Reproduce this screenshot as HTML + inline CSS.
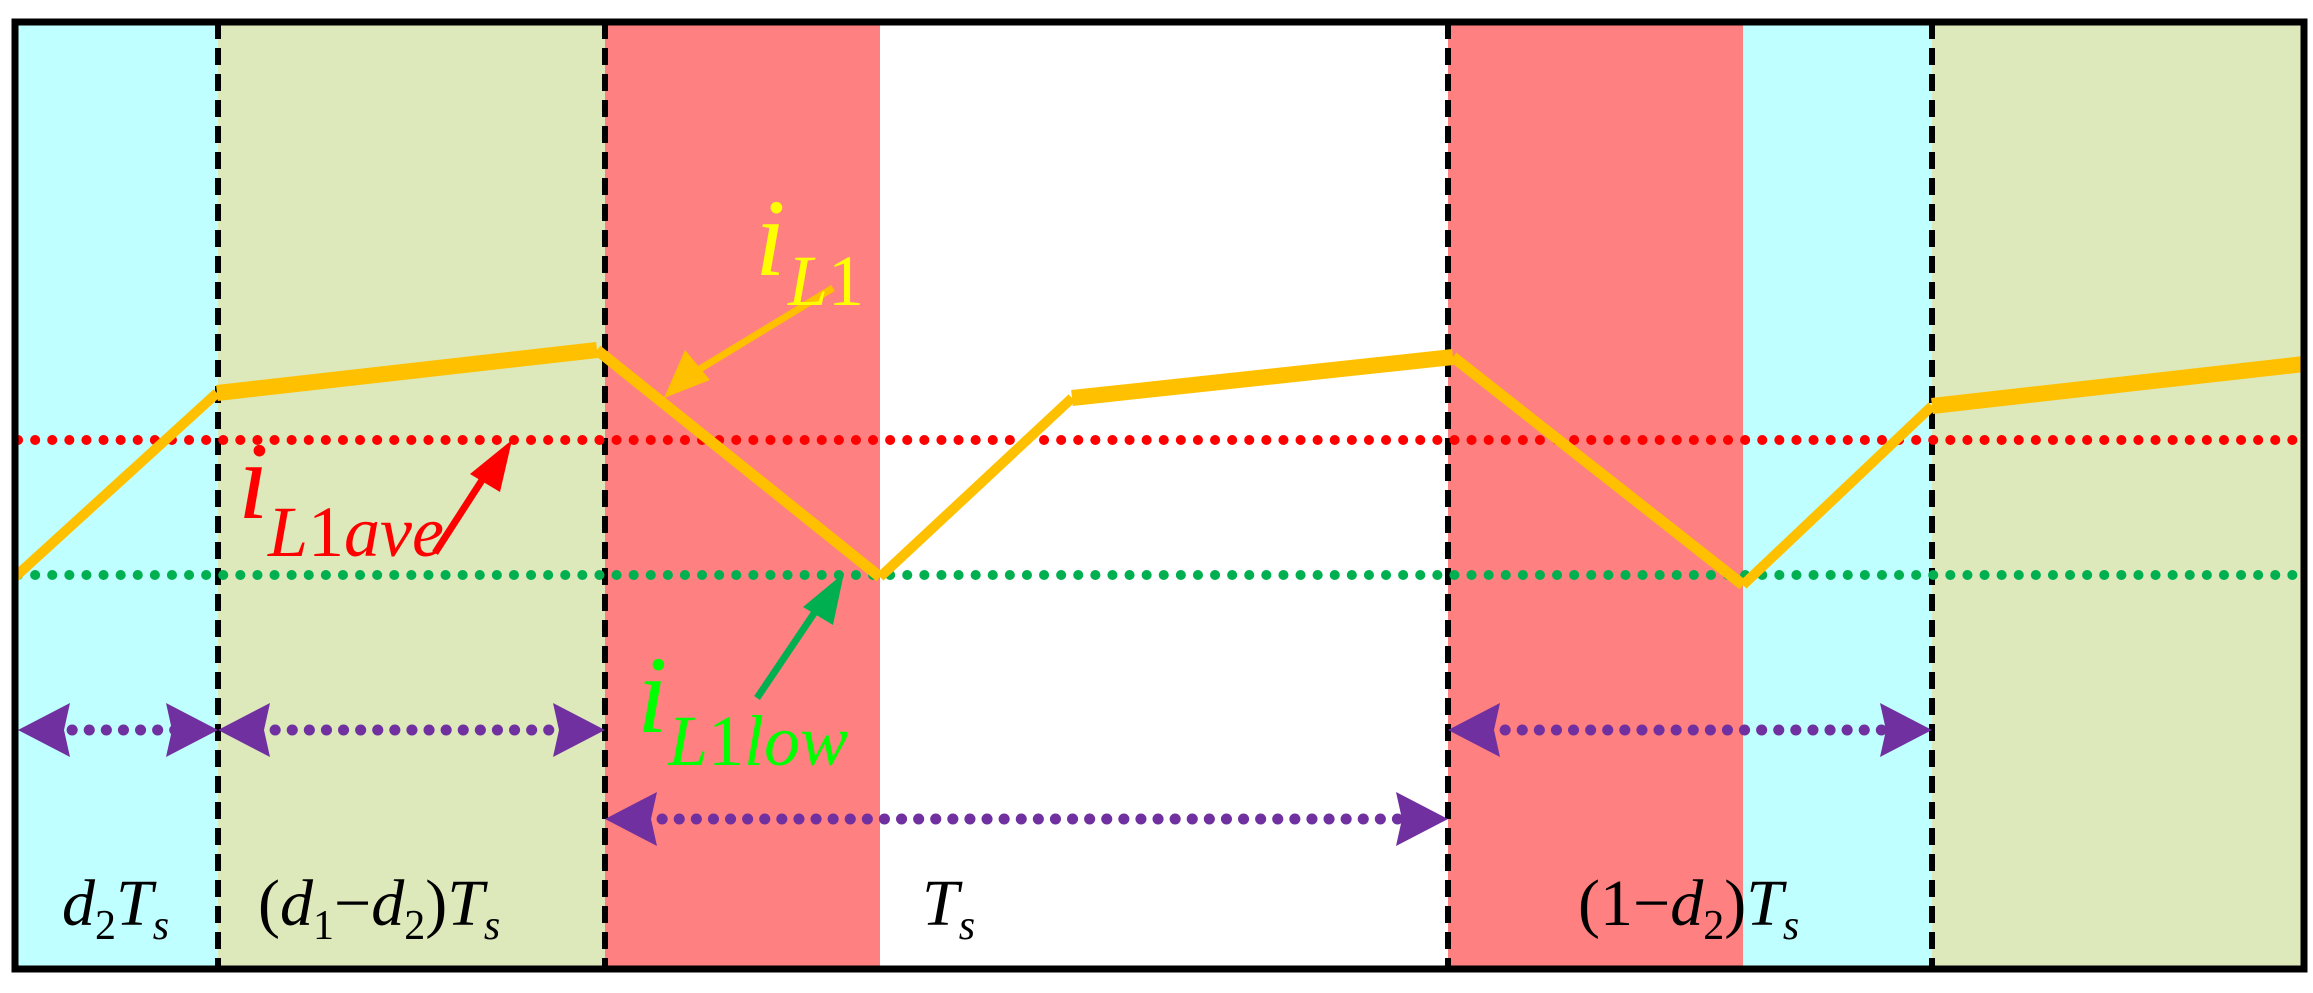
<!DOCTYPE html>
<html><head><meta charset="utf-8"><style>html,body{margin:0;padding:0;background:#fff}svg{display:block}text{font-family:"Liberation Serif","Times New Roman",serif}</style></head>
<body>
<svg width="2313" height="993" viewBox="0 0 2313 993" xmlns="http://www.w3.org/2000/svg">
<rect x="15" y="22" width="203" height="947" fill="#c0ffff"/>
<rect x="218" y="22" width="387" height="947" fill="#dde8bb"/>
<rect x="605" y="22" width="275" height="947" fill="#ff8080"/>
<rect x="1448" y="22" width="295" height="947" fill="#ff8080"/>
<rect x="1743" y="22" width="189" height="947" fill="#c0ffff"/>
<rect x="1932" y="22" width="372" height="947" fill="#dde8bb"/>
<g stroke="#000" stroke-width="6" stroke-dasharray="17,9">
<line x1="218" y1="22" x2="218" y2="969"/><line x1="605" y1="22" x2="605" y2="969"/>
<line x1="1448" y1="22" x2="1448" y2="969"/><line x1="1932" y1="22" x2="1932" y2="969"/>
</g>
<g stroke-width="10" stroke-linecap="round" stroke-dasharray="0.1,17">
<line x1="18" y1="440" x2="2304" y2="440" stroke="#ff0000"/>
<line x1="18" y1="575" x2="2304" y2="575" stroke="#00b050"/>
</g>
<g stroke="#ffc000" fill="none">
<polyline points="15,577 217,393" stroke-width="10"/>
<polyline points="217,393 597,350" stroke-width="16"/>
<polyline points="597,350 880,577" stroke-width="11"/>
<polyline points="880,577 1072,398" stroke-width="10"/>
<polyline points="1072,398 1453,357" stroke-width="16"/>
<polyline points="1453,357 1743,585" stroke-width="11"/>
<polyline points="1743,585 1932,406" stroke-width="10"/>
<polyline points="1932,406 2304,364" stroke-width="16"/>
</g>
<g stroke="#7030a0" stroke-width="11" stroke-linecap="round" stroke-dasharray="0.1,17">
<line x1="55" y1="730" x2="180" y2="730"/>
<line x1="258" y1="730" x2="565" y2="730"/>
<line x1="1488" y1="730" x2="1890" y2="730"/>
<line x1="645" y1="819" x2="1410" y2="819"/>
</g>
<g fill="#7030a0">
<path d="M18,730 L70,703 L64,730 L70,757 z"/>
<path d="M218,730 L166,703 L172,730 L166,757 z"/>
<path d="M218,730 L270,703 L264,730 L270,757 z"/>
<path d="M605,730 L553,703 L559,730 L553,757 z"/>
<path d="M1448,730 L1500,703 L1494,730 L1500,757 z"/>
<path d="M1932,730 L1880,703 L1886,730 L1880,757 z"/>
<path d="M605,819 L657,792 L651,819 L657,846 z"/>
<path d="M1448,819 L1396,792 L1402,819 L1396,846 z"/>
</g>
<line x1="833" y1="288" x2="690" y2="375" stroke="#ffc000" stroke-width="7"/>
<path d="M664,398 L685,350 L710,380 z" fill="#ffc000"/>
<line x1="435" y1="553" x2="495" y2="460" stroke="#ff0000" stroke-width="7"/>
<path d="M512,440 L500,492 L470,474 z" fill="#ff0000"/>
<line x1="757" y1="698" x2="825" y2="597" stroke="#00b050" stroke-width="7"/>
<path d="M844,573 L833,625 L803,607 z" fill="#00b050"/>
<rect x="15" y="22" width="2289" height="947" fill="none" stroke="#000" stroke-width="7"/>
<g font-style="italic">
<text x="755" y="275" font-size="110" fill="#ffff00">i</text>
<text x="788" y="305" font-size="72" fill="#ffff00">L<tspan font-style="normal">1</tspan></text>
<text x="238" y="518" font-size="110" fill="#ff0000">i</text>
<text x="268" y="556" font-size="72" fill="#ff0000">L<tspan font-style="normal">1</tspan>ave</text>
<text x="637" y="732" font-size="110" fill="#00ff00">i</text>
<text x="668" y="765" font-size="72" fill="#00ff00">L<tspan font-style="normal">1</tspan>low</text>
</g>
<g font-size="66" fill="#000">
<text x="62" y="925"><tspan font-style="italic">d</tspan><tspan font-size="42" dy="14">2</tspan><tspan font-style="italic" dy="-14">T</tspan><tspan font-style="italic" font-size="42" dy="14">s</tspan></text>
<text x="258" y="925">(<tspan font-style="italic">d</tspan><tspan font-size="42" dy="14">1</tspan><tspan dy="-14">−</tspan><tspan font-style="italic">d</tspan><tspan font-size="42" dy="14">2</tspan><tspan dy="-14">)</tspan><tspan font-style="italic">T</tspan><tspan font-style="italic" font-size="42" dy="14">s</tspan></text>
<text x="922" y="925"><tspan font-style="italic">T</tspan><tspan font-style="italic" font-size="42" dy="14">s</tspan></text>
<text x="1578" y="925">(1−<tspan font-style="italic">d</tspan><tspan font-size="42" dy="14">2</tspan><tspan dy="-14">)</tspan><tspan font-style="italic">T</tspan><tspan font-style="italic" font-size="42" dy="14">s</tspan></text>
</g>
</svg>
</body></html>
